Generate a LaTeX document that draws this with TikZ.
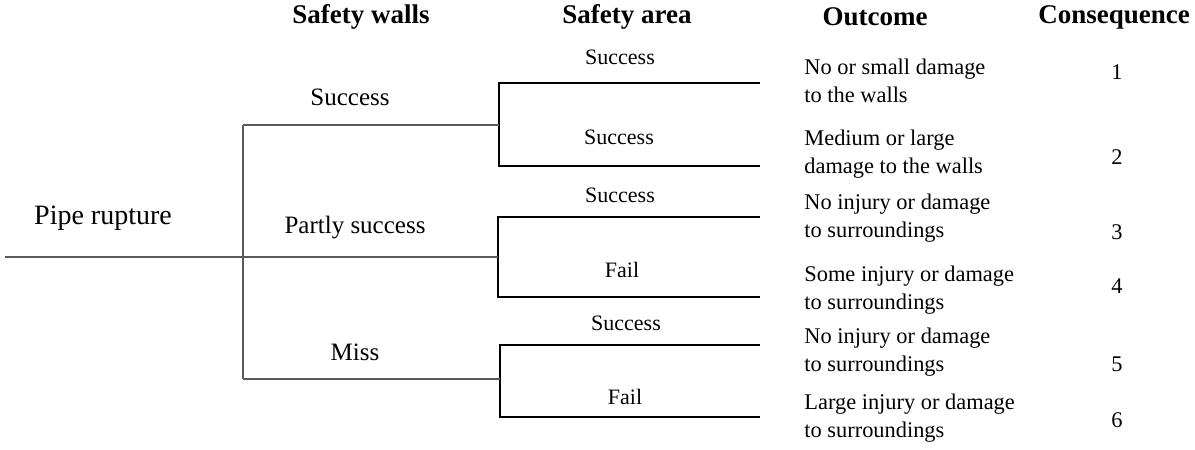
\documentclass[tikz,border=0pt]{standalone}
\usepackage{fontspec}
\setmainfont{Liberation Serif}
\usetikzlibrary{positioning}

\begin{document}
\begin{tikzpicture}[
  x=0.5pt, y=-0.5pt,
  hd/.style={font=\fontsize{13.5}{16}\selectfont\bfseries, inner sep=0pt},
  wl/.style={font=\fontsize{12.5}{15}\selectfont, inner sep=0pt},
  al/.style={font=\fontsize{11}{13}\selectfont, inner sep=0pt},
  oc/.style={font=\fontsize{11.2}{14}\selectfont, align=left, anchor=west, inner sep=0pt},
  num/.style={font=\fontsize{11.2}{14}\selectfont, inner sep=0pt},
  br/.style={draw=black!65, line width=0.7pt},
  sub/.style={draw=black, line width=1.2pt}
]
  \useasboundingbox (0,0) rectangle (1195,450);

  % column headers
  \node[hd] (hwalls) at (361,17) {Safety walls};
  \node[hd] (harea) at (627,17) {Safety area};
  \node[hd] (hout) at (875,17) {Outcome};
  \node[hd] (hcons) at (1114,17) {Consequence};

  % initiating event
  \node[font=\fontsize{14}{16}\selectfont, inner sep=0pt] (pipe) at (103,218) {Pipe rupture};
  \coordinate (root) at (5,257);
  \coordinate (w0) at (243,257);
  \coordinate (wtop) at (243,125);
  \coordinate (wbot) at (243,379);
  \draw[br] (root) -- (w0);
  \draw[br] (wtop) -- (wbot);

  % safety walls branches
  \node[wl] (ws) at (350,97) {Success};
  \node[wl] (wp) at (355,228) {Partly success};
  \node[wl] (wm) at (355,352) {Miss};

  % safety area branches
  \foreach \g/\x/\t/\b in {1/499/83/166, 2/498/217/297, 3/500/345/417} {
    \coordinate (a\g) at (\x,{(\t+\b)/2});
    \coordinate (t\g) at (\x,\t);
    \coordinate (b\g) at (\x,\b);
    \coordinate (et\g) at (760,\t);
    \coordinate (eb\g) at (760,\b);
    \draw[sub] (et\g) -- (t\g) -- (b\g) -- (eb\g);
  }
  \draw[br] (wtop) -- (wtop-|a1);
  \draw[br] (w0) -- (a2);
  \draw[br] (wbot) -- (wbot-|a3);

  \node[al] (s1) at (620,57) {Success};
  \node[al] (s2) at (619,137) {Success};
  \node[al] (s3) at (620,195) {Success};
  \node[al] (f1) at (622,270) {Fail};
  \node[al] (s4) at (626,323) {Success};
  \node[al] (f2) at (625,397) {Fail};

  % outcomes
  \node[oc] (o1) at (804,81) {No or small damage\\to the walls};
  \node[oc] (o2) at (804,154) {Medium or large\\damage to the walls};
  \node[oc] (o3) at (804,218) {No injury or damage\\to surroundings};
  \node[oc] (o4) at (804,290) {Some injury or damage\\to surroundings};
  \node[oc] (o5) at (804,352) {No injury or damage\\to surroundings};
  \node[oc] (o6) at (804,418) {Large injury or damage\\to surroundings};

  % consequences
  \foreach \n/\y in {1/72, 2/157, 3/232, 4/286, 5/364, 6/420}
    \node[num] (c\n) at (1117,\y) {\n};
\end{tikzpicture}
\end{document}
